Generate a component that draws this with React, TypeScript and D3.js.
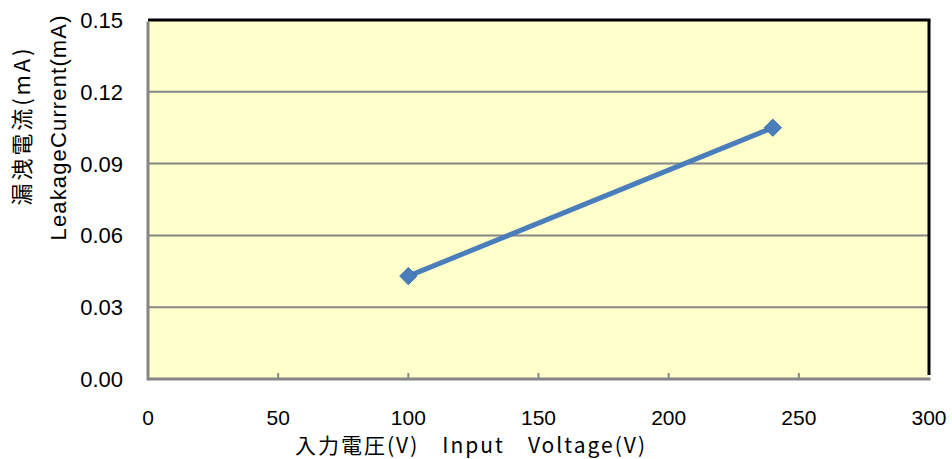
import { useEffect, useRef } from "react";
import * as d3 from "d3";

const voltages = [100, 240];
const leakage = [0.043, 0.105];
const xTicks = [0, 50, 100, 150, 200, 250, 300];
const yTicks = [0, 0.03, 0.06, 0.09, 0.12, 0.15];
const xTitle = "入力電圧(V)\u3000Input\u3000Voltage(V)";
const yTitle1 = "漏洩電流(mA)";
const yTitle2 = "LeakageCurrent(mA)";

const W = 952;
const H = 459;
const FONT = "'Liberation Sans', Arial, 'Noto Sans CJK JP', sans-serif";
const JFONT = "'Noto Sans CJK JP', 'Liberation Sans', sans-serif";

export default function App() {
  const ref = useRef<SVGSVGElement>(null);

  useEffect(() => {
    const svg = d3.select(ref.current);
    svg.selectAll("*").remove();

    const left = 148, right = 929, top = 20, bottom = 379;
    const x = d3.scaleLinear().domain([0, 300]).range([left, right]);
    const y = d3.scaleLinear().domain([0, 0.15]).range([bottom, top]);

    svg.append("rect").attr("width", W).attr("height", H).attr("fill", "#fff");

    svg
      .append("rect")
      .attr("x", left)
      .attr("y", top)
      .attr("width", right - left)
      .attr("height", bottom - top)
      .attr("fill", "#FFFFCC");

    // gridlines
    svg
      .append("g")
      .selectAll("line")
      .data(yTicks.slice(1, -1))
      .join("line")
      .attr("x1", left)
      .attr("x2", right)
      .attr("y1", (d) => y(d))
      .attr("y2", (d) => y(d))
      .attr("stroke", "#868686")
      .attr("stroke-width", 2);

    // x minor ticks pointing up
    svg
      .append("g")
      .selectAll("line")
      .data(xTicks.slice(1, -1))
      .join("line")
      .attr("x1", (d) => x(d))
      .attr("x2", (d) => x(d))
      .attr("y1", bottom)
      .attr("y2", bottom - 6)
      .attr("stroke", "#868686")
      .attr("stroke-width", 2);

    // frame: black top/right, gray left/bottom
    svg.append("line").attr("x1", left).attr("x2", right + 1.5).attr("y1", top).attr("y2", top)
      .attr("stroke", "#000").attr("stroke-width", 3);
    svg.append("line").attr("x1", right).attr("x2", right).attr("y1", top).attr("y2", bottom - 4)
      .attr("stroke", "#000").attr("stroke-width", 3);
    svg.append("line").attr("x1", left).attr("x2", left).attr("y1", top + 1.5).attr("y2", bottom + 1.5)
      .attr("stroke", "#868686").attr("stroke-width", 3);
    svg.append("line").attr("x1", left).attr("x2", right + 1.5).attr("y1", bottom).attr("y2", bottom)
      .attr("stroke", "#868686").attr("stroke-width", 3);

    // tick labels
    svg
      .append("g")
      .selectAll("text")
      .data(yTicks)
      .join("text")
      .attr("x", 123)
      .attr("y", (d) => y(d))
      .attr("dy", "0.36em")
      .attr("text-anchor", "end")
      .attr("font-family", FONT)
      .attr("font-size", 22)
      .attr("fill", "#000")
      .text((d) => d3.format(".2f")(d));

    svg
      .append("g")
      .selectAll("text")
      .data(xTicks)
      .join("text")
      .attr("x", (d) => x(d))
      .attr("y", 425)
      .attr("text-anchor", "middle")
      .attr("font-family", FONT)
      .attr("font-size", 21)
      .attr("fill", "#000")
      .text((d) => String(d));

    // titles
    svg
      .append("text")
      .attr("x", 470)
      .attr("y", 453)
      .attr("text-anchor", "middle")
      .attr("font-family", JFONT)
      .attr("font-size", 21)
      .attr("textLength", 350)
      .attr("lengthAdjust", "spacing")
      .text(xTitle);

    svg
      .append("text")
      .attr("transform", "translate(30,127) rotate(-90)")
      .attr("text-anchor", "middle")
      .attr("font-family", JFONT)
      .attr("font-size", 22)
      .attr("textLength", 157)
      .attr("lengthAdjust", "spacing")
      .text(yTitle1);

    svg
      .append("text")
      .attr("transform", "translate(66,128) rotate(-90)")
      .attr("text-anchor", "middle")
      .attr("font-family", FONT)
      .attr("font-size", 22)
      .attr("textLength", 225)
      .attr("lengthAdjust", "spacing")
      .text(yTitle2);

    // series
    const pts = voltages.map((v, i) => [v, leakage[i]] as [number, number]);
    svg
      .append("path")
      .datum(pts)
      .attr("fill", "none")
      .attr("stroke", "#4A7EBB")
      .attr("stroke-width", 5)
      .attr(
        "d",
        d3
          .line<[number, number]>()
          .x((d) => x(d[0]))
          .y((d) => y(d[1]))
      );

    const diamond = d3.symbol().type(d3.symbolDiamond2).size(190);
    svg
      .append("g")
      .selectAll("path")
      .data(pts)
      .join("path")
      .attr("transform", (d) => `translate(${x(d[0])},${y(d[1])})`)
      .attr("d", diamond() as string)
      .attr("fill", "#4A7EBB")
      .attr("stroke", "#3C6EA8")
      .attr("stroke-width", 1);
  }, []);

  return (
    <svg
      ref={ref}
      width={W}
      height={H}
      style={{ display: "block", position: "absolute", left: 0, top: 0 }}
    />
  );
}
